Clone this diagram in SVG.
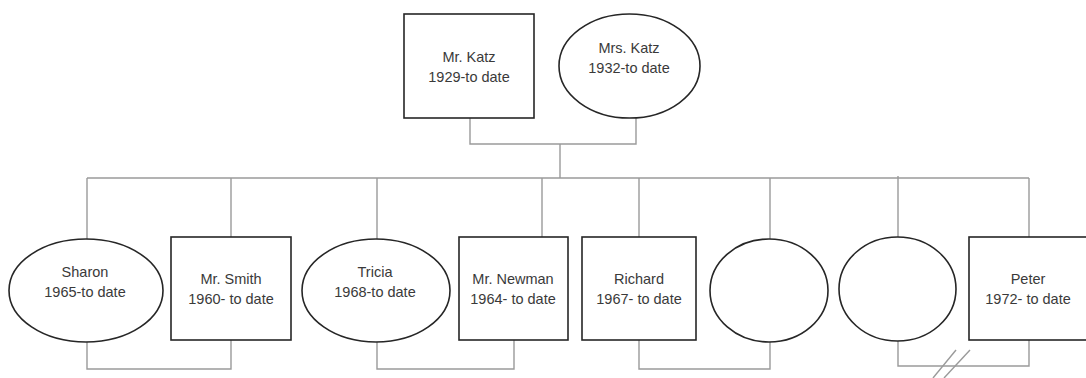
<svg xmlns="http://www.w3.org/2000/svg" width="1086" height="378" viewBox="0 0 1086 378">
<style>
.shape{fill:#fff;stroke:#262626;stroke-width:1.6}
.conn{fill:none;stroke:#9a9a9a;stroke-width:1.4}
text{font-family:"Liberation Sans",Arial,sans-serif;font-size:14.5px;fill:#3a3a3a;text-anchor:middle}
</style>
<rect width="1086" height="378" fill="#fff"/>
<g id="connectors">
<polyline class="conn" points="470,118 470,144 636,144 636,118"/>
<line class="conn" x1="560" y1="144" x2="560" y2="178"/>
<line class="conn" x1="87" y1="178" x2="1029" y2="178"/>
<line class="conn" x1="87" y1="178" x2="87" y2="239"/>
<line class="conn" x1="231" y1="178" x2="231" y2="237"/>
<line class="conn" x1="377" y1="178" x2="377" y2="239"/>
<line class="conn" x1="542" y1="178" x2="542" y2="239"/>
<line class="conn" x1="639" y1="178" x2="639" y2="237"/>
<line class="conn" x1="770" y1="178" x2="770" y2="239"/>
<line class="conn" x1="898" y1="176" x2="898" y2="237"/>
<line class="conn" x1="1029" y1="178" x2="1029" y2="237"/>
<polyline class="conn" points="87,342 87,369 231,369 231,340"/>
<polyline class="conn" points="377,342 377,369 514,369 514,340"/>
<polyline class="conn" points="639,340 639,369 770,369 770,342"/>
<polyline class="conn" points="898,341 898,366 1029,366 1029,340"/>
<line class="conn" x1="933" y1="378" x2="956" y2="350"/>
<line class="conn" x1="944" y1="378" x2="970" y2="350"/>
</g>
<g id="mr-katz">
<rect class="shape" x="404" y="14" width="130" height="104"/>
<text x="469" y="62">Mr. Katz</text>
<text x="469" y="82">1929-to date</text>
</g>
<g id="mrs-katz">
<ellipse class="shape" cx="629.5" cy="66" rx="70.5" ry="52"/>
<text x="629" y="53">Mrs. Katz</text>
<text x="629" y="73">1932-to date</text>
</g>
<g id="sharon">
<ellipse class="shape" cx="86" cy="290.5" rx="77" ry="51.5"/>
<text x="85" y="277">Sharon</text>
<text x="85" y="297">1965-to date</text>
</g>
<g id="mr-smith">
<rect class="shape" x="171" y="237" width="120" height="103"/>
<text x="231" y="284">Mr. Smith</text>
<text x="231" y="304">1960- to date</text>
</g>
<g id="tricia">
<ellipse class="shape" cx="376" cy="290.5" rx="74" ry="51.5"/>
<text x="375" y="277">Tricia</text>
<text x="375" y="297">1968-to date</text>
</g>
<g id="mr-newman">
<rect class="shape" x="459" y="237" width="109" height="103"/>
<text x="513" y="284">Mr. Newman</text>
<text x="513" y="304">1964- to date</text>
</g>
<g id="richard">
<rect class="shape" x="582" y="237" width="114" height="103"/>
<text x="639" y="284">Richard</text>
<text x="639" y="304">1967- to date</text>
</g>
<g id="spouse-1">
<ellipse class="shape" cx="769" cy="290.5" rx="59" ry="51.5"/>
</g>
<g id="spouse-2">
<ellipse class="shape" cx="897.5" cy="289" rx="58.5" ry="52"/>
</g>
<g id="peter">
<rect class="shape" x="969" y="237" width="125" height="103"/>
<text x="1028" y="284">Peter</text>
<text x="1028" y="304">1972- to date</text>
</g>
</svg>
